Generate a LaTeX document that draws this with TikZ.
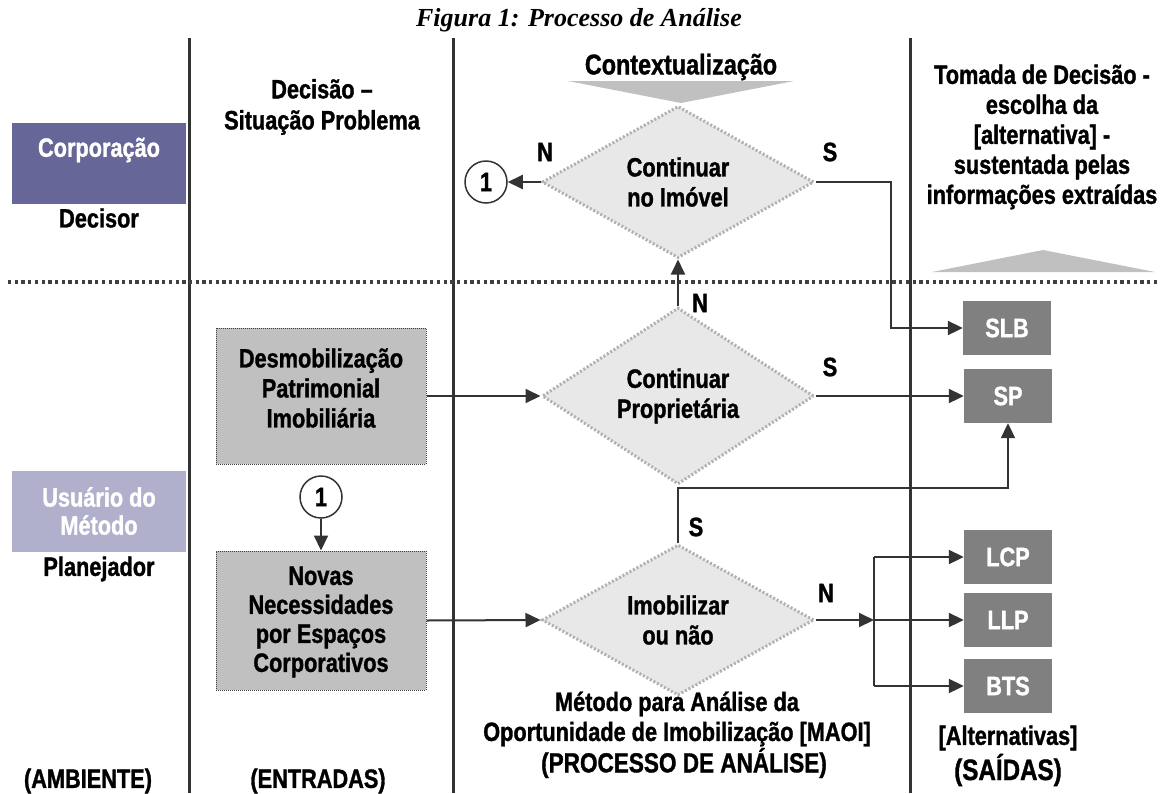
\documentclass[tikz,border=0pt]{standalone}
\usepackage{fontspec}
\setmainfont{Liberation Sans}[FakeStretch=0.82, BoldFeatures={FakeBold=1.2}]
\newfontfamily\titlefont{Liberation Serif}
\usetikzlibrary{arrows.meta,shapes.geometric}
\definecolor{linec}{HTML}{333333}
\definecolor{dotc}{HTML}{404040}
\definecolor{corp}{HTML}{666699}
\definecolor{usu}{HTML}{B0B0CC}
\definecolor{boxg}{HTML}{C0C0C0}
\definecolor{outg}{HTML}{808080}
\definecolor{diaf}{HTML}{E8E8E8}
\definecolor{diab}{HTML}{B0B0B0}
\definecolor{trig}{HTML}{C0C0C0}
\begin{document}
\begin{tikzpicture}[x=1pt,y=-1pt,
  txt/.style={font=\bfseries\fontsize{26.5}{30}\selectfont, align=center, inner sep=0pt},
  lane/.style={line width=3pt, draw=linec},
  conn/.style={line width=2pt, draw=linec, -{Triangle[length=15pt,width=14pt]}},
  plain/.style={line width=2pt, draw=linec},
  inbox/.style={txt, fill=boxg, draw=dotc, densely dotted, line width=1pt, minimum width=210pt, minimum height=136pt},
  outbox/.style={txt, fill=outg, text=white, minimum width=88pt, minimum height=54pt},
  decision/.style={txt, diamond, fill=diaf, draw=diab, line width=3pt, dash pattern=on 2pt off 2pt, minimum width=272pt, minimum height=134pt},
  conncircle/.style={txt, circle, draw=linec, line width=1.5pt, minimum size=42pt},
  rolebox/.style={minimum width=174pt, minimum height=81pt, inner sep=0pt}
]
\useasboundingbox (0,0) rectangle (1168,793);

% title
\node[font=\titlefont\bfseries\itshape\fontsize{26}{30}\selectfont, inner sep=0pt] (title) at (579,20) {Figura 1: Processo de Análise};

% lanes
\coordinate (l1t) at (189,38); \coordinate (l1b) at (189,793);
\coordinate (l2t) at (453,38); \coordinate (l2b) at (453,793);
\coordinate (l3t) at (910,38); \coordinate (l3b) at (910,793);
\draw[lane] (l1t) -- (l1b);
\draw[lane] (l2t) -- (l2b);
\draw[lane] (l3t) -- (l3b);

% dotted separator
\coordinate (sepl) at (8,282); \coordinate (sepr) at (1160,282);
\draw[draw=dotc, line width=3.3pt, dash pattern=on 3.3pt off 3.4pt] (sepl) -- (sepr);

% left column
\node[rolebox, fill=corp] (corpbox) at (99,163.5) {};
\node[txt, text=white] (corptxt) at (99,150) {Corporação};
\node[txt] (decisor) at (99,218) {Decisor};
\node[rolebox, fill=usu] (usubox) at (99,511) {};
\node[txt, text=white, font=\bfseries\fontsize{26.5}{28}\selectfont] (usutxt) at (99,511) {Usuário do\\Método};
\node[txt] (planej) at (99,569) {Planejador};
\node[txt] (amb) at (88,781) {(AMBIENTE)};

% inputs column
\node[txt, font=\bfseries\fontsize{26.5}{31}\selectfont] (dectitle) at (322,107) {Decisão --\\Situação Problema};
\node[inbox] (desm) at (321,396) {};
\node[txt] (desmtxt) at (321,388) {Desmobilização\\Patrimonial\\Imobiliária};
\node[conncircle] (c1b) at (321,497) {1};
\node[inbox, minimum height=139pt] (novas) at (321,620.5) {};
\node[txt, font=\bfseries\fontsize{26.5}{29}\selectfont] (novastxt) at (321,622) {Novas\\Necessidades\\por Espaços\\Corporativos};
\node[txt] (entr) at (318,781) {(ENTRADAS)};

% process column
\node[txt, font=\bfseries\fontsize{28.5}{30}\selectfont] (context) at (681,67) {Contextualização};
\coordinate (ctl) at (568,81); \coordinate (ctr) at (794,81); \coordinate (cta) at (681,103);
\fill[trig] (ctl) -- (ctr) -- (cta) -- cycle;
\node[decision] (d1) at (678,182) {Continuar\\no Imóvel};
\node[decision] (d2) at (678,396) {Continuar\\Proprietária};
\node[decision] (d3) at (678,620) {Imobilizar\\ou não};
\node[conncircle] (c1a) at (486,182) {1};
\node[txt] (maoi) at (677,719) {Método para Análise da\\Oportunidade de Imobilização {[MAOI]}};
\node[txt, font=\bfseries\fontsize{27.5}{30}\selectfont] (proc) at (684,763) {(PROCESSO DE ANÁLISE)};

% outputs column
\node[txt] (tomada) at (1042,137) {Tomada de Decisão -\\escolha da\\{[alternativa] -}\\sustentada pelas\\informações extraídas};
\coordinate (utl) at (932,272); \coordinate (utr) at (1155,272); \coordinate (uta) at (1043,250);
\fill[trig] (utl) -- (utr) -- (uta) -- cycle;
\node[outbox] (slb) at (1007,328) {SLB};
\node[outbox] (sp) at (1008,396) {SP};
\node[outbox] (lcp) at (1008,557) {LCP};
\node[outbox] (llp) at (1008,620) {LLP};
\node[outbox] (bts) at (1008,686) {BTS};
\node[txt] (alts) at (1008,738) {{[Alternativas]}};
\node[txt, font=\bfseries\fontsize{29.5}{32}\selectfont] (saidas) at (1008,770) {(SAÍDAS)};

% connectors
\draw[conn] (d1.west) -- (c1a.east);
\node[txt] (n1) at (545,152) {N};
\draw[conn] (d1.east) -- ++(75,0) |- (slb.west);
\node[txt] (s1) at (830,152) {S};
\draw[conn] (d2.north) -- (d1.south);
\node[txt] (n2) at (700,303) {N};
\draw[conn] (desm.east) -- (d2.west);
\draw[conn] (d2.east) -- (sp.west);
\node[txt] (s2) at (830,367) {S};
\draw[conn] (c1b.south) -- (novas.north);
\draw[conn] (novas.east) -- (d3.west);
\coordinate (spturn) at (1008,488);
\draw[conn] (d3.north) |- (spturn) -- (sp.south);
\node[txt] (s3) at (696,527) {S};
\coordinate (jn) at (874,620);
\draw[conn] (d3.east) -- (jn);
\node[txt] (n3) at (826,593) {N};
\draw[plain] (jn |- lcp.west) -- (jn |- bts.west);
\draw[conn] (jn |- lcp.west) -- (lcp.west);
\draw[conn] (jn) -- (llp.west);
\draw[conn] (jn |- bts.west) -- (bts.west);
\end{tikzpicture}
\end{document}
